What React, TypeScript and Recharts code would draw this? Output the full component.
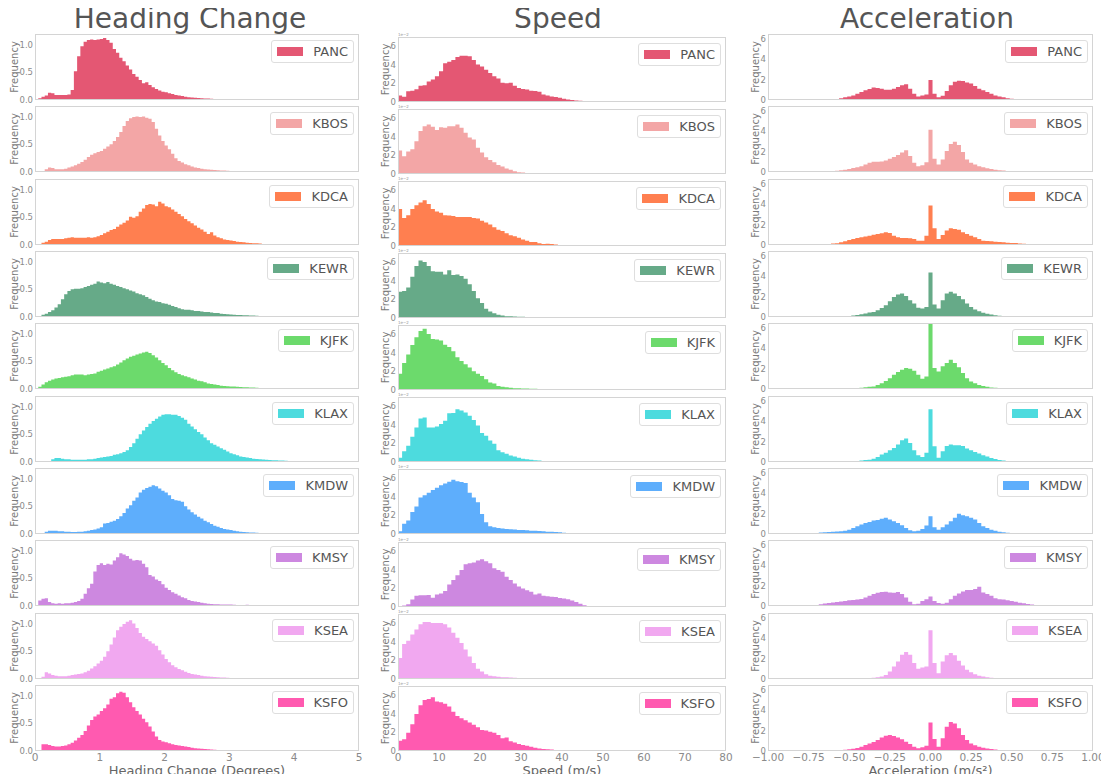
import React from 'react';
import { AreaChart, Area, XAxis, YAxis, Legend, Label } from 'recharts';

const AIRPORTS = ['PANC', 'KBOS', 'KDCA', 'KEWR', 'KJFK', 'KLAX', 'KMDW', 'KMSY', 'KSEA', 'KSFO'];
const COLORS = ['#e45773', '#f3a6a6', '#ff7f50', '#66aa88', '#6cda6c', '#4ddbde', '#5eaefc', '#cd88e0', '#f1a8f0', '#ff5ab0'];
const TITLES = ['Heading Change', 'Speed', 'Acceleration'];
const X_LABELS = ['Heading Change (Degrees)', 'Speed (m/s)', 'Acceleration (m/s²)'];

const HEADING_TICKS = [0, 1, 2, 3, 4, 5];
const SPEED_TICKS = [0, 10, 20, 30, 40, 50, 60, 70, 80];
const ACCEL_TICKS = [-1, -0.75, -0.5, -0.25, 0, 0.25, 0.5, 0.75, 1];
const HEADING_Y_TICKS = [0, 0.5, 1];
const SPEED_Y_TICKS = [0, 2, 4, 6];
const ACCEL_Y_TICKS = [0, 2, 4, 6];

// Heading change histograms: bins of 0.05 deg starting at 0
const headingPANC = [
  0, 0.03, 0.06, 0.08, 0.13, 0.12, 0.09, 0.09, 0.09, 0.09,
  0.1, 0.18, 0.52, 0.79, 0.97, 1.05, 1.08, 1.09, 1.08, 1.09,
  1.1, 1.12, 1.08, 1.03, 0.92, 0.85, 0.76, 0.7, 0.62, 0.55,
  0.47, 0.42, 0.36, 0.3, 0.32, 0.27, 0.23, 0.2, 0.17, 0.15,
  0.14, 0.12, 0.11, 0.09, 0.08, 0.07, 0.06, 0.05, 0.045, 0.04,
  0.035, 0.03, 0.028, 0.025, 0.022, 0.02, 0.018, 0.016, 0.015, 0.014,
  0.013, 0.012, 0.011, 0.01, 0.01, 0.009, 0.009, 0.008, 0.008, 0.008,
  0.007, 0.007, 0.007, 0.006, 0.006, 0.006, 0.006, 0.005, 0.005, 0.005,
  0.005, 0.005, 0.004, 0.005, 0.004, 0.004, 0.004, 0.004, 0, 0,
];
const headingKBOS = [
  0, 0, 0, 0.05, 0.08, 0.07, 0.05, 0.05, 0.05, 0.06,
  0.08, 0.1, 0.12, 0.15, 0.18, 0.22, 0.27, 0.31, 0.34, 0.36,
  0.38, 0.42, 0.46, 0.5, 0.56, 0.63, 0.72, 0.83, 0.92, 0.97,
  0.99, 1.0, 0.99, 1.0, 0.98, 0.96, 0.9, 0.78, 0.66, 0.56,
  0.48, 0.41, 0.33, 0.25, 0.2, 0.17, 0.14, 0.12, 0.1, 0.08,
  0.07, 0.06, 0.05, 0.045, 0.04, 0.035, 0.03, 0.028, 0.025, 0.022,
  0.02, 0.018, 0.016, 0.015, 0.014, 0.013, 0.012, 0.011, 0.01, 0.01,
  0.009, 0.008, 0.008, 0.007, 0.007, 0.006, 0.006, 0, 0, 0,
  0, 0, 0, 0, 0, 0, 0, 0, 0, 0,
];
const headingKDCA = [
  0, 0, 0.04, 0.06, 0.09, 0.11, 0.11, 0.11, 0.11, 0.12,
  0.13, 0.14, 0.13, 0.13, 0.13, 0.13, 0.14, 0.13, 0.14, 0.16,
  0.18, 0.21, 0.24, 0.27, 0.29, 0.33, 0.37, 0.4, 0.44, 0.51,
  0.49, 0.52, 0.6, 0.66, 0.72, 0.74, 0.73, 0.7, 0.78, 0.75,
  0.7, 0.68, 0.64, 0.6, 0.56, 0.52, 0.47, 0.43, 0.39, 0.35,
  0.31, 0.28, 0.24, 0.2, 0.23, 0.17, 0.14, 0.12, 0.1, 0.09,
  0.08, 0.07, 0.06, 0.055, 0.05, 0.04, 0.035, 0.03, 0.03, 0.025,
  0.02, 0.02, 0.018, 0.017, 0.016, 0.015, 0.014, 0.013, 0.012, 0.011,
  0.01, 0.01, 0.009, 0.008, 0.008, 0.007, 0.006, 0.006, 0, 0,
];
const headingKEWR = [
  0, 0.02, 0.04, 0.06, 0.09, 0.12, 0.17, 0.23, 0.32, 0.41,
  0.47, 0.5, 0.51, 0.51, 0.52, 0.54, 0.56, 0.58, 0.6, 0.64,
  0.62, 0.61, 0.63, 0.6, 0.58, 0.56, 0.54, 0.52, 0.5, 0.48,
  0.46, 0.43, 0.41, 0.39, 0.36, 0.33, 0.3, 0.28, 0.27, 0.25,
  0.24, 0.22, 0.2, 0.18, 0.16, 0.14, 0.13, 0.13, 0.12, 0.11,
  0.11, 0.1, 0.09, 0.09, 0.08, 0.07, 0.07, 0.06, 0.055, 0.05,
  0.045, 0.04, 0.035, 0.035, 0.03, 0.03, 0.028, 0.025, 0.022, 0.02,
  0.02, 0.018, 0.017, 0.016, 0.015, 0.014, 0.013, 0.012, 0.011, 0.01,
  0.01, 0.009, 0.008, 0.008, 0.007, 0.006, 0.006, 0.005, 0, 0,
];
const headingKJFK = [
  0, 0.04, 0.08, 0.12, 0.15, 0.17, 0.19, 0.2, 0.21, 0.22,
  0.23, 0.25, 0.26, 0.26, 0.26, 0.25, 0.26, 0.27, 0.28, 0.31,
  0.33, 0.35, 0.37, 0.39, 0.41, 0.44, 0.48, 0.52, 0.55, 0.58,
  0.6, 0.62, 0.64, 0.66, 0.67, 0.65, 0.61, 0.57, 0.52, 0.47,
  0.43, 0.38, 0.34, 0.3, 0.27, 0.25, 0.23, 0.21, 0.19, 0.17,
  0.15, 0.14, 0.12, 0.1, 0.09, 0.08, 0.07, 0.06, 0.055, 0.05,
  0.045, 0.045, 0.04, 0.035, 0.03, 0.03, 0.028, 0.025, 0.022, 0.02,
  0.02, 0.018, 0.018, 0.017, 0.016, 0.016, 0.015, 0.013, 0.012, 0.011,
  0.01, 0.009, 0.008, 0.008, 0.007, 0.006, 0.006, 0.005, 0, 0,
];
const headingKLAX = [
  0, 0, 0, 0, 0, 0.05, 0.07, 0.07, 0.06, 0.05,
  0.05, 0.04, 0.04, 0.04, 0.04, 0.04, 0.05, 0.05, 0.06, 0.07,
  0.08, 0.09, 0.1, 0.11, 0.13, 0.14, 0.16, 0.18, 0.21, 0.27,
  0.34, 0.42, 0.5, 0.57, 0.63, 0.69, 0.74, 0.78, 0.82, 0.85,
  0.86, 0.86, 0.85, 0.85, 0.83, 0.8, 0.76, 0.69, 0.64, 0.59,
  0.54, 0.5, 0.44, 0.39, 0.34, 0.31, 0.28, 0.25, 0.22, 0.19,
  0.16, 0.14, 0.12, 0.1, 0.09, 0.08, 0.07, 0.06, 0.055, 0.05,
  0.045, 0.04, 0.035, 0.03, 0.03, 0.028, 0.025, 0.022, 0.02, 0.018,
  0.016, 0.015, 0.013, 0.012, 0.01, 0.009, 0.008, 0.006, 0, 0,
];
const headingKMDW = [
  0, 0, 0.02, 0.04, 0.06, 0.06, 0.06, 0.05, 0.05, 0.04,
  0.04, 0.035, 0.035, 0.04, 0.04, 0.05, 0.06, 0.07, 0.08, 0.1,
  0.12, 0.19, 0.2, 0.22, 0.24, 0.27, 0.32, 0.38, 0.46, 0.52,
  0.6, 0.66, 0.75, 0.8, 0.83, 0.85, 0.88, 0.86, 0.82, 0.78,
  0.75, 0.7, 0.63, 0.61, 0.6, 0.58, 0.5, 0.44, 0.39, 0.35,
  0.31, 0.28, 0.24, 0.21, 0.18, 0.15, 0.13, 0.11, 0.09, 0.08,
  0.07, 0.06, 0.05, 0.04, 0.035, 0.03, 0.028, 0.025, 0.022, 0.02,
  0.018, 0.017, 0.016, 0.015, 0.015, 0.014, 0.013, 0.012, 0.011, 0.01,
  0.009, 0.008, 0.008, 0.007, 0.006, 0.006, 0.005, 0.005, 0, 0,
];
const headingKMSY = [
  0, 0.1, 0.13, 0.14, 0.07, 0.05, 0.04, 0.05, 0.04, 0.05,
  0.05, 0.06, 0.07, 0.09, 0.13, 0.22, 0.32, 0.4, 0.62, 0.74,
  0.77, 0.74, 0.76, 0.75, 0.82, 0.88, 0.95, 0.93, 0.9, 0.85,
  0.82, 0.83, 0.82, 0.76, 0.7, 0.56, 0.53, 0.48, 0.45, 0.39,
  0.33, 0.29, 0.25, 0.22, 0.19, 0.16, 0.14, 0.11, 0.09, 0.08,
  0.07, 0.06, 0.05, 0.04, 0.035, 0.03, 0.03, 0.028, 0.025, 0.025,
  0.025, 0.022, 0.02, 0.02, 0.02, 0.022, 0.02, 0.018, 0.016, 0.015,
  0.014, 0.013, 0.013, 0.012, 0.012, 0.011, 0.01, 0.01, 0.009, 0.009,
  0.008, 0.008, 0.007, 0.007, 0.006, 0.006, 0.005, 0.005, 0, 0,
];
const headingKSEA = [
  0, 0, 0.04, 0.12, 0.1, 0.07, 0.06, 0.05, 0.05, 0.05,
  0.06, 0.07, 0.08, 0.09, 0.1, 0.12, 0.15, 0.19, 0.23, 0.28,
  0.33, 0.4, 0.5, 0.62, 0.75, 0.88, 0.94, 0.99, 1.03, 1.06,
  1.0, 0.92, 0.83, 0.76, 0.72, 0.68, 0.64, 0.6, 0.52, 0.44,
  0.36, 0.3, 0.25, 0.21, 0.18, 0.16, 0.13, 0.11, 0.09, 0.08,
  0.07, 0.06, 0.05, 0.045, 0.04, 0.035, 0.03, 0.028, 0.025, 0.022,
  0.02, 0.02, 0.019, 0.018, 0.018, 0.017, 0.016, 0.016, 0.015, 0.015,
  0.012, 0.012, 0.011, 0.011, 0.01, 0.01, 0.01, 0.01, 0.008, 0.008,
  0.007, 0.007, 0.006, 0.006, 0.006, 0.005, 0.005, 0.005, 0, 0,
];
const headingKSFO = [
  0, 0, 0.12, 0.12, 0.11, 0.09, 0.08, 0.08, 0.09, 0.1,
  0.12, 0.15, 0.19, 0.24, 0.29, 0.36, 0.46, 0.56, 0.62, 0.66,
  0.72, 0.77, 0.84, 0.94, 0.97, 1.04, 1.07, 1.05, 0.97, 0.88,
  0.79, 0.72, 0.66, 0.58, 0.52, 0.44, 0.35, 0.26, 0.2, 0.17,
  0.16, 0.14, 0.12, 0.11, 0.1, 0.09, 0.08, 0.07, 0.06, 0.05,
  0.045, 0.04, 0.035, 0.03, 0.025, 0.022, 0.02, 0.018, 0.017, 0.016,
  0.015, 0.014, 0.013, 0.012, 0.012, 0.011, 0.01, 0.01, 0.01, 0.009,
  0.009, 0.009, 0.008, 0.008, 0.008, 0.008, 0.007, 0.007, 0.007, 0.006,
  0.006, 0.006, 0.006, 0.005, 0.005, 0.005, 0.005, 0.005, 0, 0,
];

// Speed histograms (x1e-2): bins of 1 m/s starting at 0
const speedPANC = [
  0.7, 0.55, 1.15, 1.2, 1.35, 1.75, 1.8, 2.2, 2.4, 2.75,
  3.3, 4.15, 4.3, 4.5, 4.8, 4.95, 4.95, 4.9, 4.5, 4.0,
  3.8, 3.46, 3.1, 2.76, 2.5, 2.05, 2.0, 2.05, 1.75, 1.5,
  1.4, 1.34, 1.2, 1.17, 1.1, 0.8, 0.7, 0.6, 0.53, 0.46,
  0.35, 0.28, 0.22, 0.17, 0.14, 0.12, 0.1, 0.08, 0.07, 0.06,
  0.05, 0.05, 0.05, 0.04, 0.05, 0.04, 0.04, 0.05, 0.04, 0.04,
  0.04, 0.03, 0.04, 0.04, 0.03, 0.04, 0.03, 0.03, 0.04, 0.03,
  0.03, 0.03, 0.04, 0.03, 0.03, 0.03, 0.03, 0.04, 0.03, 0.03,
];
const speedKBOS = [
  2.5, 1.9, 2.4, 2.65, 3.5, 4.6, 5.1, 5.3, 5.05, 4.7,
  5.0, 4.95, 5.1, 5.1, 5.3, 4.95, 4.4, 3.9, 3.7, 2.8,
  2.3, 1.8, 1.5, 1.25, 0.95, 0.8, 0.6, 0.45, 0.3, 0.2,
  0.15, 0.1, 0.08, 0.07, 0.06, 0.06, 0.05, 0.05, 0.05, 0.05,
  0.04, 0.05, 0.04, 0.04, 0.04, 0.04, 0.04, 0.03, 0.04, 0.04,
  0.03, 0.04, 0.03, 0.04, 0.03, 0.03, 0.04, 0.03, 0.03, 0.03,
  0.03, 0.04, 0.03, 0.03, 0.03, 0.04, 0.03, 0.03, 0.03, 0.03,
  0.03, 0.03, 0.03, 0.03, 0.02, 0.03, 0.02, 0.02, 0.02, 0.02,
];
const speedKDCA = [
  3.95, 3.0, 3.3, 3.95, 4.35, 4.65, 4.9, 4.5, 3.95, 3.7,
  3.55, 3.3, 3.25, 3.2, 3.1, 3.1, 3.1, 3.1, 3.0, 2.95,
  2.7, 2.5, 2.3, 2.0, 1.75, 1.6, 1.35, 1.15, 1.05, 0.88,
  0.7, 0.55, 0.42, 0.42, 0.3, 0.22, 0.25, 0.22, 0.15, 0.1,
  0.1, 0.09, 0.08, 0.08, 0.07, 0.07, 0.06, 0.06, 0.06, 0.05,
  0.05, 0.05, 0.05, 0.04, 0.05, 0.04, 0.04, 0.04, 0.04, 0.04,
  0.04, 0.04, 0.03, 0.04, 0.03, 0.04, 0.03, 0.03, 0.03, 0.03,
  0.03, 0.03, 0.03, 0.03, 0.03, 0.02, 0.03, 0.02, 0.02, 0.02,
];
const speedKEWR = [
  2.8, 2.9, 3.25, 4.4, 5.55, 6.15, 6.0, 5.55, 5.0, 4.95,
  4.95, 4.65, 5.1, 4.6, 4.65, 4.5, 4.2, 3.6, 2.9, 2.1,
  1.6, 1.0, 0.7, 0.5, 0.35, 0.28, 0.2, 0.18, 0.15, 0.14,
  0.13, 0.12, 0.12, 0.11, 0.1, 0.1, 0.09, 0.08, 0.08, 0.08,
  0.07, 0.07, 0.07, 0.06, 0.07, 0.06, 0.06, 0.06, 0.05, 0.06,
  0.05, 0.06, 0.05, 0.05, 0.05, 0.05, 0.04, 0.05, 0.05, 0.04,
  0.04, 0.05, 0.04, 0.04, 0.04, 0.04, 0.05, 0.04, 0.04, 0.04,
  0.04, 0.04, 0.04, 0.04, 0.04, 0.04, 0.04, 0.04, 0.04, 0.04,
];
const speedKJFK = [
  1.75, 2.9, 3.8, 4.8, 5.65, 6.3, 6.55, 6.0, 5.45, 5.4,
  5.3, 4.85, 4.6, 4.15, 3.5, 3.1, 2.75, 2.4, 2.0, 1.75,
  1.5, 1.15, 0.8, 0.7, 0.42, 0.35, 0.3, 0.25, 0.2, 0.18,
  0.17, 0.15, 0.14, 0.13, 0.12, 0.11, 0.1, 0.09, 0.08, 0.08,
  0.08, 0.07, 0.07, 0.06, 0.06, 0.06, 0.06, 0.05, 0.05, 0.05,
  0.05, 0.05, 0.05, 0.04, 0.05, 0.04, 0.04, 0.04, 0.04, 0.04,
  0.04, 0.04, 0.04, 0.04, 0.04, 0.04, 0.04, 0.04, 0.04, 0.04,
  0.04, 0.04, 0.04, 0.03, 0.04, 0.04, 0.03, 0.04, 0.04, 0.04,
];
const speedKLAX = [
  0.45, 1.15, 1.75, 2.7, 3.7, 4.65, 4.75, 3.7, 3.7, 3.8,
  4.05, 4.4, 5.2, 5.25, 5.65, 5.5, 5.3, 4.95, 4.5, 3.9,
  3.1, 2.8, 2.3, 1.95, 1.25, 1.05, 0.88, 0.7, 0.6, 0.45,
  0.35, 0.3, 0.25, 0.2, 0.15, 0.12, 0.1, 0.09, 0.08, 0.08,
  0.07, 0.07, 0.06, 0.06, 0.06, 0.05, 0.06, 0.05, 0.05, 0.05,
  0.05, 0.05, 0.04, 0.05, 0.04, 0.04, 0.04, 0.04, 0.04, 0.04,
  0.04, 0.04, 0.04, 0.04, 0.04, 0.04, 0.04, 0.04, 0.04, 0.04,
  0.04, 0.04, 0.04, 0.04, 0.04, 0.04, 0.04, 0.04, 0.04, 0.04,
];
const speedKMDW = [
  0.3, 1.1, 1.45, 2.35, 2.95, 3.9, 4.15, 4.4, 4.7, 4.95,
  5.2, 5.4, 5.6, 5.8, 5.65, 5.55, 5.45, 4.4, 3.9, 3.4,
  2.15, 1.25, 0.83, 0.72, 0.65, 0.58, 0.54, 0.5, 0.47, 0.43,
  0.43, 0.4, 0.36, 0.36, 0.32, 0.29, 0.25, 0.25, 0.22, 0.18,
  0.14, 0.1, 0.08, 0.07, 0.07, 0.06, 0.06, 0.05, 0.05, 0.05,
  0.05, 0.05, 0.04, 0.05, 0.04, 0.04, 0.04, 0.04, 0.04, 0.04,
  0.04, 0.04, 0.04, 0.04, 0.04, 0.04, 0.04, 0.04, 0.03, 0.03,
  0.03, 0.03, 0.03, 0.03, 0.03, 0.03, 0.03, 0.03, 0.03, 0.03,
];
const speedKMSY = [
  0, 0.15, 0.3, 0.8, 1.2, 1.25, 1.25, 1.28, 1.0, 1.33,
  1.44, 1.7, 2.4, 2.9, 3.4, 3.95, 4.57, 4.68, 4.75, 4.96,
  5.1, 4.9, 4.68, 4.14, 3.95, 3.78, 3.24, 2.9, 2.52, 2.2,
  1.98, 1.8, 1.62, 1.33, 1.44, 1.2, 1.15, 1.1, 1.08, 0.95,
  0.9, 0.83, 0.7, 0.54, 0.36, 0.2, 0.1, 0.07, 0.08, 0.07,
  0.07, 0.07, 0.06, 0.07, 0.06, 0.06, 0.06, 0.06, 0.06, 0.07,
  0.06, 0.06, 0.06, 0.07, 0.06, 0.06, 0.06, 0.05, 0.06, 0.05,
  0.05, 0.05, 0.06, 0.05, 0.05, 0.05, 0.05, 0.05, 0.06, 0.05,
];
const speedKSEA = [
  2.25, 3.75, 4.1, 4.75, 5.3, 5.85, 6.1, 6.1, 6.0, 6.0,
  6.0, 5.85, 5.5, 4.95, 4.4, 3.85, 3.15, 2.4, 1.7, 1.1,
  0.8, 0.5, 0.35, 0.3, 0.25, 0.2, 0.18, 0.15, 0.13, 0.12,
  0.11, 0.1, 0.09, 0.08, 0.08, 0.07, 0.07, 0.06, 0.06, 0.06,
  0.05, 0.05, 0.05, 0.05, 0.05, 0.05, 0.04, 0.05, 0.04, 0.04,
  0.04, 0.04, 0.04, 0.04, 0.04, 0.04, 0.04, 0.04, 0.04, 0.04,
  0.04, 0.04, 0.04, 0.04, 0.04, 0.04, 0.04, 0.04, 0.04, 0.04,
  0.04, 0.04, 0.03, 0.04, 0.03, 0.03, 0.03, 0.03, 0.03, 0.03,
];
const speedKSFO = [
  1.1, 1.25, 1.95, 2.85, 3.95, 4.9, 5.45, 5.55, 5.75, 5.3,
  5.2, 5.05, 4.75, 4.2, 3.75, 3.5, 3.3, 3.05, 2.8, 2.55,
  2.25, 2.2, 2.05, 1.95, 1.7, 1.35, 1.45, 1.05, 0.9, 0.75,
  0.65, 0.55, 0.45, 0.35, 0.28, 0.22, 0.18, 0.15, 0.12, 0.11,
  0.1, 0.09, 0.08, 0.08, 0.07, 0.07, 0.06, 0.06, 0.06, 0.06,
  0.05, 0.05, 0.05, 0.04, 0.05, 0.04, 0.04, 0.04, 0.04, 0.04,
  0.04, 0.04, 0.04, 0.04, 0.04, 0.03, 0.04, 0.03, 0.03, 0.03,
  0.03, 0.03, 0.03, 0.03, 0.03, 0.03, 0.03, 0.03, 0.03, 0.03,
];

// Acceleration histograms: bins of 0.025 m/s² starting at -0.9875
const accelPANC = [
  0, 0, 0, 0, 0, 0, 0, 0, 0, 0,
  0, 0.02, 0.03, 0.05, 0.06, 0.08, 0.1, 0.17, 0.27, 0.34,
  0.44, 0.61, 0.78, 0.95, 1.08, 1.22, 1.19, 1.12, 1.02, 1.02,
  1.12, 1.29, 1.46, 1.56, 1.12, 0.61, 0.34, 0.44, 0.54, 1.97,
  0.61, 0.27, 0.41, 0.88, 1.46, 1.8, 1.9, 1.86, 1.73, 1.63,
  1.39, 1.12, 0.95, 0.78, 0.61, 0.44, 0.34, 0.27, 0.17, 0.13,
  0.1, 0.08, 0.06, 0.05, 0.04, 0.03, 0.02, 0.02, 0.02, 0.02,
  0.015, 0.015, 0.01, 0.015, 0.01, 0.01, 0.01, 0.01, 0.01, 0.01,
];
const accelKBOS = [
  0, 0, 0, 0, 0, 0, 0, 0, 0, 0,
  0, 0, 0, 0.03, 0.05, 0.08, 0.12, 0.17, 0.22, 0.3,
  0.4, 0.47, 0.57, 0.74, 0.9, 1.0, 1.0, 1.04, 1.14, 1.31,
  1.48, 1.68, 1.92, 2.15, 1.58, 0.9, 0.57, 0.67, 0.97, 4.15,
  1.31, 0.74, 1.24, 2.08, 2.76, 2.99, 2.66, 1.98, 1.24, 0.9,
  0.74, 0.57, 0.47, 0.38, 0.3, 0.23, 0.18, 0.14, 0.11, 0.09,
  0.07, 0.05, 0.04, 0.03, 0.02, 0.02, 0.02, 0.015, 0.015, 0.01,
  0.01, 0.01, 0.01, 0, 0, 0, 0, 0, 0, 0,
];
const accelKDCA = [
  0, 0, 0, 0, 0, 0, 0, 0, 0, 0,
  0, 0, 0.03, 0.06, 0.1, 0.14, 0.18, 0.26, 0.36, 0.5,
  0.6, 0.7, 0.76, 0.83, 0.92, 1.02, 1.09, 1.16, 1.25, 1.19,
  0.92, 0.76, 0.7, 0.7, 0.66, 0.6, 0.43, 0.43, 0.92, 3.9,
  1.65, 0.6, 0.99, 1.42, 1.65, 1.58, 1.49, 1.25, 1.09, 0.92,
  0.76, 0.6, 0.43, 0.4, 0.36, 0.33, 0.3, 0.26, 0.23, 0.2,
  0.2, 0.16, 0.13, 0.1, 0.08, 0.06, 0.05, 0.05, 0.04, 0.03,
  0.03, 0.03, 0.02, 0.03, 0.02, 0.02, 0.02, 0.02, 0.02, 0.02,
];
const accelKEWR = [
  0, 0, 0, 0, 0, 0, 0, 0, 0, 0,
  0, 0, 0.01, 0.02, 0.02, 0.03, 0.04, 0.05, 0.07, 0.1,
  0.14, 0.2, 0.27, 0.35, 0.45, 0.5, 0.66, 0.89, 1.16, 1.55,
  1.98, 2.21, 2.31, 2.08, 1.65, 1.32, 0.92, 0.83, 0.99, 4.39,
  1.22, 0.83, 1.65, 2.31, 2.48, 2.31, 2.08, 1.75, 1.32, 0.99,
  0.73, 0.56, 0.43, 0.33, 0.25, 0.18, 0.13, 0.1, 0.08, 0.06,
  0.05, 0.04, 0.03, 0.02, 0.02, 0.02, 0.015, 0.015, 0.01, 0.01,
  0.01, 0, 0, 0, 0, 0, 0, 0, 0, 0,
];
const accelKJFK = [
  0, 0, 0, 0, 0, 0, 0, 0, 0, 0,
  0, 0, 0.01, 0.02, 0.02, 0.03, 0.04, 0.05, 0.06, 0.07,
  0.08, 0.1, 0.13, 0.17, 0.22, 0.25, 0.4, 0.57, 0.8, 1.07,
  1.4, 1.67, 1.9, 2.07, 2.0, 1.8, 1.4, 1.0, 1.23, 6.45,
  2.07, 1.73, 2.23, 2.57, 2.87, 2.57, 2.13, 1.57, 1.07, 0.73,
  0.57, 0.4, 0.3, 0.22, 0.16, 0.12, 0.09, 0.07, 0.05, 0.04,
  0.03, 0.02, 0.02, 0.02, 0.015, 0.015, 0.01, 0.01, 0.01, 0,
  0, 0, 0, 0, 0, 0, 0, 0, 0, 0,
];
const accelKLAX = [
  0, 0, 0, 0, 0, 0, 0, 0, 0, 0,
  0, 0, 0.01, 0.01, 0.02, 0.02, 0.03, 0.03, 0.04, 0.05,
  0.07, 0.1, 0.14, 0.2, 0.23, 0.33, 0.5, 0.73, 0.92, 1.16,
  1.39, 1.72, 2.15, 2.31, 1.88, 1.16, 0.66, 0.5, 0.92, 5.2,
  1.55, 0.43, 1.06, 1.58, 1.72, 1.65, 1.65, 1.58, 1.32, 1.16,
  0.99, 0.83, 0.66, 0.53, 0.4, 0.3, 0.2, 0.15, 0.11, 0.08,
  0.06, 0.05, 0.04, 0.03, 0.02, 0.02, 0.02, 0.015, 0.015, 0.01,
  0.01, 0.01, 0.01, 0.01, 0.01, 0.01, 0, 0, 0, 0,
];
const accelKMDW = [
  0, 0, 0, 0, 0, 0, 0, 0, 0, 0,
  0, 0.1, 0.15, 0.17, 0.2, 0.22, 0.25, 0.28, 0.33, 0.43,
  0.6, 0.76, 0.93, 1.09, 1.19, 1.32, 1.39, 1.49, 1.59, 1.42,
  1.26, 1.09, 0.86, 0.6, 0.36, 0.26, 0.33, 0.5, 0.83, 1.75,
  0.66, 0.43, 0.66, 0.93, 1.26, 1.59, 1.99, 1.85, 1.75, 1.59,
  1.42, 1.09, 0.76, 0.6, 0.43, 0.33, 0.23, 0.17, 0.12, 0.09,
  0.07, 0.05, 0.04, 0.03, 0.02, 0.02, 0.02, 0.02, 0.015, 0.015,
  0.01, 0.01, 0.01, 0.01, 0.01, 0.01, 0.01, 0.01, 0.01, 0.01,
];
const accelKMSY = [
  0, 0, 0, 0, 0, 0, 0, 0, 0, 0,
  0, 0.1, 0.18, 0.25, 0.3, 0.35, 0.4, 0.45, 0.5, 0.57,
  0.6, 0.63, 0.7, 0.83, 1.0, 1.17, 1.3, 1.37, 1.4, 1.33,
  1.3, 1.37, 1.17, 0.83, 0.43, 0.17, 0.23, 0.5, 0.67, 0.93,
  0.5, 0.3, 0.23, 0.33, 0.67, 1.0, 1.23, 1.43, 1.57, 1.57,
  1.67, 1.9, 1.33, 1.17, 1.0, 0.77, 0.67, 0.63, 0.57, 0.5,
  0.43, 0.33, 0.27, 0.2, 0.15, 0.1, 0.08, 0.06, 0.05, 0.04,
  0.04, 0.03, 0.03, 0.03, 0.02, 0.02, 0.02, 0.02, 0.02, 0.02,
];
const accelKSEA = [
  0, 0, 0, 0, 0, 0, 0, 0, 0, 0,
  0, 0, 0, 0, 0.01, 0.01, 0.02, 0.02, 0.03, 0.04,
  0.05, 0.06, 0.07, 0.08, 0.1, 0.13, 0.18, 0.25, 0.4, 0.73,
  1.23, 1.73, 2.4, 2.67, 2.4, 1.57, 1.0, 1.13, 1.23, 4.8,
  1.57, 0.57, 1.73, 2.33, 2.57, 2.33, 1.8, 1.33, 0.9, 0.67,
  0.47, 0.33, 0.25, 0.18, 0.13, 0.1, 0.07, 0.05, 0.04, 0.03,
  0.02, 0.02, 0.02, 0.015, 0.015, 0.01, 0.01, 0.01, 0.01, 0.01,
  0.01, 0, 0, 0, 0, 0, 0, 0, 0, 0,
];
const accelKSFO = [
  0, 0, 0, 0, 0, 0, 0, 0, 0, 0,
  0, 0, 0.01, 0.02, 0.03, 0.04, 0.05, 0.08, 0.12, 0.17,
  0.23, 0.3, 0.43, 0.59, 0.75, 0.89, 1.08, 1.34, 1.51, 1.57,
  1.48, 1.34, 1.15, 0.92, 0.69, 0.43, 0.26, 0.36, 0.52, 2.8,
  1.18, 0.43, 1.25, 2.39, 2.85, 2.72, 2.23, 1.57, 1.08, 0.75,
  0.56, 0.43, 0.33, 0.25, 0.19, 0.14, 0.1, 0.08, 0.06, 0.04,
  0.03, 0.02, 0.02, 0.02, 0.015, 0.015, 0.01, 0.01, 0.01, 0.01,
  0.01, 0.01, 0, 0, 0, 0, 0, 0, 0, 0,
];

const HEADING_SERIES = [headingPANC, headingKBOS, headingKDCA, headingKEWR, headingKJFK, headingKLAX, headingKMDW, headingKMSY, headingKSEA, headingKSFO];
const SPEED_SERIES = [speedPANC, speedKBOS, speedKDCA, speedKEWR, speedKJFK, speedKLAX, speedKMDW, speedKMSY, speedKSEA, speedKSFO];
const ACCEL_SERIES = [accelPANC, accelKBOS, accelKDCA, accelKEWR, accelKJFK, accelKLAX, accelKMDW, accelKMSY, accelKSEA, accelKSFO];

const FONT = '"DejaVu Sans", "Liberation Sans", sans-serif';
const minusFmt = (v: number, d: number) => (v < 0 ? '\u2212' + Math.abs(v).toFixed(d) : v.toFixed(d));

const COLUMNS = [
  {
    series: HEADING_SERIES, binStart: 0, binWidth: 0.05, domain: [0, 5], yMax: 1.19,
    xTicks: HEADING_TICKS, yTicks: HEADING_Y_TICKS,
    xFmt: (v: number) => String(v), yFmt: (v: number) => v.toFixed(1),
    left: 35, width: 324, top0: 34, step: 72.33, height: 66, labelOff: 21, offsetText: '', titleX: 190,
  },
  {
    series: SPEED_SERIES, binStart: 0, binWidth: 1, domain: [0, 80], yMax: 6.95,
    xTicks: SPEED_TICKS, yTicks: SPEED_Y_TICKS,
    xFmt: (v: number) => String(v), yFmt: (v: number) => String(v),
    left: 398, width: 328, top0: 36.5, step: 72.15, height: 65, labelOff: 13, offsetText: '1e\u22122', titleX: 558,
  },
  {
    series: ACCEL_SERIES, binStart: -0.9875, binWidth: 0.025, domain: [-1, 1], yMax: 6.5,
    xTicks: ACCEL_TICKS, yTicks: ACCEL_Y_TICKS,
    xFmt: (v: number) => minusFmt(v, 2), yFmt: (v: number) => String(v),
    left: 768, width: 325, top0: 34, step: 72.33, height: 66, labelOff: 12.5, offsetText: '', titleX: 927,
  },
];

function buildSteps(values: number[], start: number, width: number, xMax: number) {
  const pts = values.map((v, i) => ({ x: start + i * width, y: v }));
  const end = Math.min(start + values.length * width, xMax);
  pts.push({ x: end, y: values[values.length - 1] });
  return pts;
}

function Panel({ col, row }: { col: number; row: number }) {
  const c = COLUMNS[col];
  const isBottom = row === AIRPORTS.length - 1;
  const top = Math.round(c.top0 + c.step * row);
  const MT = 6;
  const MR = isBottom ? 16 : 4;
  const YW = 35;
  const XH = isBottom ? 30 : 0;
  const MB = isBottom ? 0 : 6;
  const w = YW + c.width + MR;
  const h = MT + c.height + XH + MB;
  const data = buildSteps(c.series[row], c.binStart, c.binWidth, c.domain[1]);
  const color = COLORS[row];
  const name = AIRPORTS[row];

  const yLabel = (props: any) => {
    const vb = props.viewBox || { x: 0, y: MT, width: YW, height: c.height };
    const cx = vb.x + vb.width - c.labelOff;
    const cy = vb.y + vb.height / 2;
    return (
      <g>
        <text x={cx} y={cy} transform={`rotate(-90 ${cx} ${cy})`} textAnchor="middle" dominantBaseline="central"
          fontSize={10} fill="#7a7a7a" fontFamily={FONT}>Frequency</text>
        {c.offsetText ? (
          <text x={vb.x + vb.width} y={vb.y - 1} fontSize={4} fill="#999" fontFamily={FONT}>{c.offsetText}</text>
        ) : null}
      </g>
    );
  };

  const xLabel = (props: any) => {
    const vb = props.viewBox || { x: YW, y: MT + c.height, width: c.width, height: XH };
    return (
      <text x={vb.x + vb.width / 2} y={MT + c.height + 24} textAnchor="middle"
        fontSize={13} fill="#666" fontFamily={FONT}>{X_LABELS[col]}</text>
    );
  };

  const legendContent = () => (
    <div style={{
      display: 'flex', alignItems: 'center', height: 23, boxSizing: 'border-box',
      border: '1px solid #dedede', borderRadius: 3, background: 'rgba(255,255,255,0.85)',
      padding: '0 5px 0 5px', fontFamily: FONT, fontSize: 13, color: '#555', whiteSpace: 'nowrap',
    }}>
      <span style={{ display: 'inline-block', width: 26, height: 9, background: color, marginRight: 10 }} />
      <span>{name}</span>
    </div>
  );

  return (
    <div style={{ position: 'absolute', left: c.left - YW, top: top - MT, width: w, height: h }}>
      <AreaChart width={w} height={h} data={data} margin={{ top: MT, right: MR, left: 0, bottom: MB }}>
        <XAxis
          dataKey="x" type="number" domain={c.domain} ticks={c.xTicks} hide={!isBottom} height={XH}
          axisLine={false} tickLine={false} tickSize={0} tickMargin={3} interval={0}
          tickFormatter={c.xFmt} tick={{ fontSize: 10.5, fill: '#8a8a8a', fontFamily: FONT }}
        >
          {isBottom ? <Label content={xLabel} /> : null}
        </XAxis>
        <YAxis
          type="number" domain={[0, c.yMax]} ticks={c.yTicks} width={YW} interval={0}
          axisLine={false} tickLine={false} tickSize={0} tickMargin={2}
          tickFormatter={c.yFmt} tick={{ fontSize: 8.5, fill: '#8a8a8a', fontFamily: FONT }}
        >
          <Label content={yLabel} />
        </YAxis>
        <Area type="stepAfter" dataKey="y" name={name} fill={color} fillOpacity={1} stroke="none"
          isAnimationActive={false} dot={false} activeDot={false} />
        <Legend layout="vertical" align="center" verticalAlign="middle" content={legendContent}
          wrapperStyle={{ top: MT + 6, right: MR + 5, left: 'auto', width: 'auto', bottom: 'auto' }} />
      </AreaChart>
      <div style={{
        position: 'absolute', left: YW, top: MT, width: c.width, height: c.height,
        border: '1px solid #d4d4d4', boxSizing: 'border-box', pointerEvents: 'none',
      }} />
    </div>
  );
}

export default function App() {
  return (
    <div style={{ position: 'relative', width: 1109, height: 782, margin: -8, background: '#fff', overflow: 'hidden', fontFamily: FONT }}>
      <svg width={1109} height={40} style={{ position: 'absolute', left: 0, top: 0 }}>
        {TITLES.map((t, i) => (
          <text key={t} x={COLUMNS[i].titleX} y={28} textAnchor="middle" fontSize={28} fill="#555" fontFamily={FONT}>{t}</text>
        ))}
      </svg>
      {COLUMNS.map((_, col) => AIRPORTS.map((a, row) => <Panel key={`${col}-${a}`} col={col} row={row} />))}
    </div>
  );
}
